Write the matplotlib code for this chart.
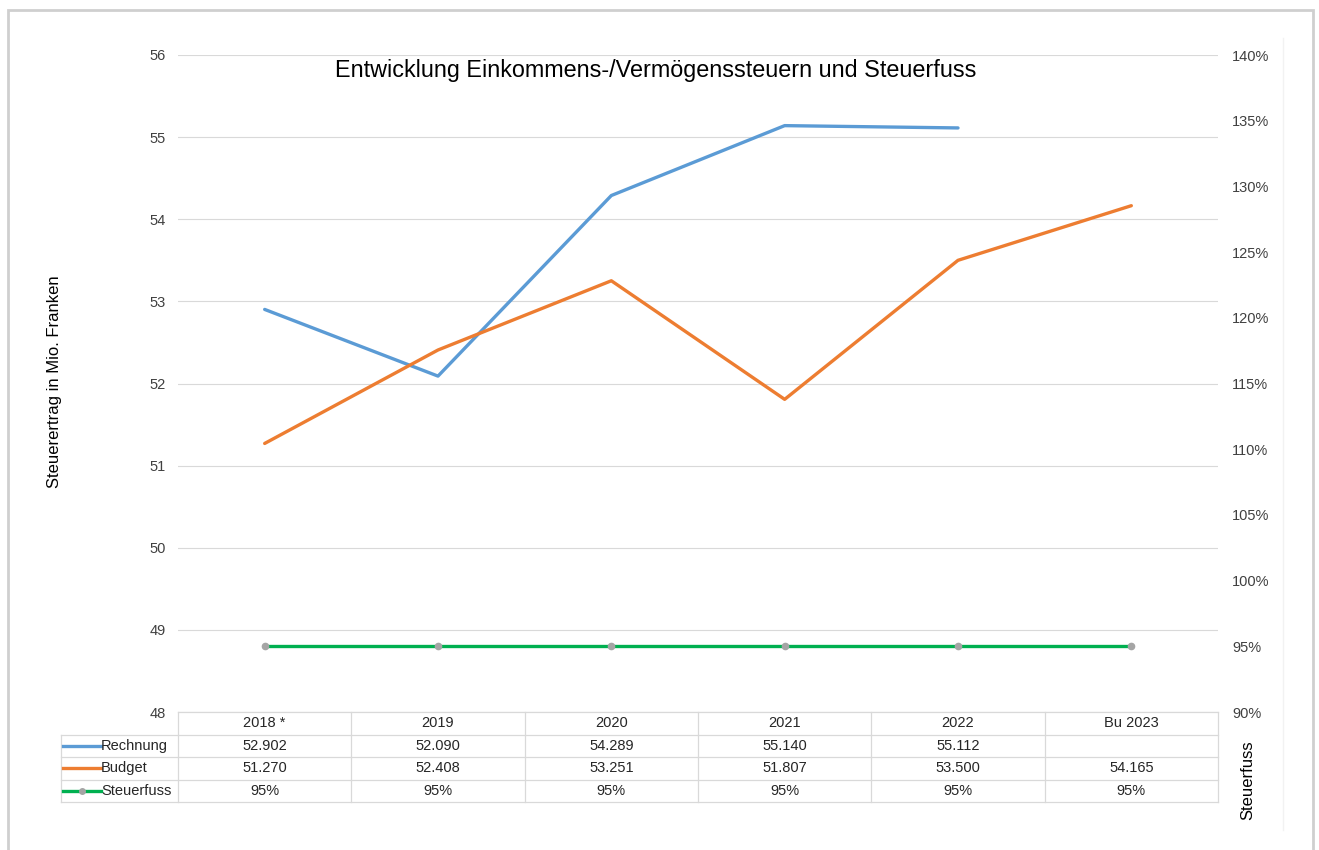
import numpy as np
import matplotlib.pyplot as plt
from matplotlib import transforms
from matplotlib.lines import Line2D
from matplotlib.patches import Rectangle

plt.rcParams['font.family'] = ['Liberation Sans', 'DejaVu Sans']

# data
categories = ["2018 *", "2019", "2020", "2021", "2022", "Bu 2023"]
rechnung = [52.902, 52.090, 54.289, 55.140, 55.112, None]
budget = [51.270, 52.408, 53.251, 51.807, 53.500, 54.165]
steuerfuss = [95, 95, 95, 95, 95, 95]

left_ticks = [48, 49, 50, 51, 52, 53, 54, 55, 56]
right_ticks = [90, 95, 100, 105, 110, 115, 120, 125, 130, 135, 140]

c_blue = '#5B9BD5'
c_orange = '#ED7D31'
c_green = '#00B050'
c_marker = '#A5A5A5'
c_grid = '#D9D9D9'
c_text = '#404040'

W, H = 1319, 850
fig = plt.figure(figsize=(W / 100, H / 100), dpi=100, facecolor='white')
ax = fig.add_axes([178 / W, 1 - 712 / H, (1218 - 178) / W, (712 - 55) / H])
ax2 = ax.twinx()

x = np.arange(len(categories))
rech = np.array([np.nan if v is None else v for v in rechnung])

ax.plot(x, rech, color=c_blue, lw=2.4, solid_capstyle='round', zorder=3)
ax.plot(x, budget, color=c_orange, lw=2.4, solid_capstyle='round', zorder=3)
ax2.plot(x, steuerfuss, color=c_green, lw=2.4, marker='o', ms=4.5,
         mfc=c_marker, mec=c_marker, zorder=3)

ax.set_xlim(-0.5, len(categories) - 0.5)
ax.set_ylim(48, 56)
ax.set_yticks(left_ticks)
ax2.set_ylim(90, 140)
ax2.set_yticks(right_ticks)
ax2.set_yticklabels([f"{t}%" for t in right_ticks])
ax.set_xticks([])

for a in (ax, ax2):
    for s in a.spines.values():
        s.set_visible(False)
    a.tick_params(axis='y', length=0, labelsize=10.5, labelcolor=c_text)
ax.tick_params(axis='y', pad=8.5)
ax2.tick_params(axis='y', pad=10)
ax.grid(axis='y', color=c_grid, lw=0.8)
ax.set_axisbelow(True)

fig.text(55 / W, 1 - 382 / H, "Steuerertrag in Mio. Franken", rotation=90, fontsize=12,
         ha='center', va='center')
fig.text(1248 / W, 1 - 780 / H, "Steuerfuss", rotation=90, fontsize=12,
         ha='center', va='center')

fig.text(656 / W, 1 - 70 / H, "Entwicklung Einkommens-/Vermögenssteuern und Steuerfuss",
         fontsize=16.8, ha='center', va='center')

# data table under the plot
tr = transforms.blended_transform_factory(ax.transData, ax.transAxes)
rh = 22.5 / (712 - 55)
x0, x1 = -0.5, len(categories) - 0.5
xl = -0.5 - (178 - 61) / 173.3
lk = dict(color=c_grid, lw=0.9, transform=tr, clip_on=False)

ax.add_line(Line2D([x0, x1], [0, 0], **lk))
for i in range(1, 5):
    ax.add_line(Line2D([xl, x1], [-i * rh, -i * rh], **lk))
for xv in np.arange(x0, x1 + 0.01, 1.0):
    ax.add_line(Line2D([xv, xv], [0, -4 * rh], **lk))
ax.add_line(Line2D([xl, xl], [-rh, -4 * rh], **lk))

tk = dict(transform=tr, ha='center', va='center', fontsize=10.5, color='#262626', clip_on=False)
for i, c in enumerate(categories):
    ax.text(i, -0.5 * rh, c, **tk)
    if rechnung[i] is not None:
        ax.text(i, -1.5 * rh, f"{rechnung[i]:.3f}", **tk)
    ax.text(i, -2.5 * rh, f"{budget[i]:.3f}", **tk)
    ax.text(i, -3.5 * rh, f"{steuerfuss[i]}%", **tk)

series = [("Rechnung", c_blue, False), ("Budget", c_orange, False), ("Steuerfuss", c_green, True)]
for k, (name, col, mk) in enumerate(series):
    yy = -(k + 1.5) * rh
    lx0 = xl + 2 / 173.3
    lx1 = xl + 40 / 173.3
    ax.add_line(Line2D([lx0, lx1], [yy, yy], color=col, lw=2.4, transform=tr, clip_on=False))
    if mk:
        ax.add_line(Line2D([(lx0 + lx1) / 2], [yy], marker='o', ms=4, mfc=c_marker, mec=c_marker,
                           transform=tr, clip_on=False))
    ax.text(lx1, yy, name, transform=tr, ha='left', va='center', fontsize=10.5,
            color='#262626', clip_on=False)

# chart frame
fig.patches.append(Rectangle((8 / W, -0.05), (1313 - 8) / W, 1.05 - 10 / H, fill=False,
                             edgecolor='#CFCFCF', lw=2, transform=fig.transFigure))
fig.lines.append(Line2D([1283 / W, 1283 / W], [1 - 38 / H, 1 - 830 / H], color='#F2F2F2',
                        lw=1, transform=fig.transFigure))

fig.savefig('out.png', dpi=100, facecolor='white')
